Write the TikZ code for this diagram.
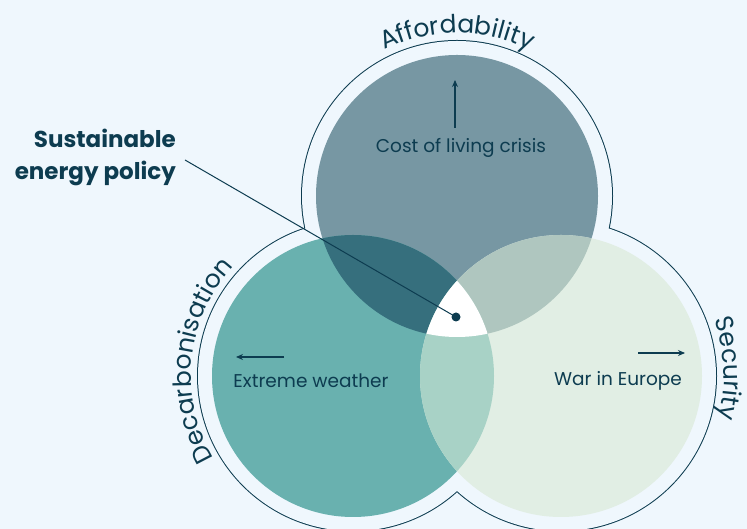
\documentclass[tikz,border=0pt]{standalone}
\usepackage{fontspec}
\setmainfont{Poppins}
\usetikzlibrary{decorations.text,arrows.meta}
\definecolor{bg}{HTML}{EFF7FD}
\definecolor{ink}{HTML}{0D3C50}
\definecolor{topc}{HTML}{7797A3}
\definecolor{leftc}{HTML}{69B1AF}
\definecolor{rightc}{HTML}{E1EEE4}
\definecolor{tlc}{HTML}{366F7D}
\definecolor{trc}{HTML}{AFC6BF}
\definecolor{lrc}{HTML}{A8D2C6}
\tikzset{
  lbl/.style={text=ink, font=\fontsize{18.5}{22}\selectfont, inner sep=0pt},
  pointer/.style={draw=ink, line width=1.1pt, -{Stealth[length=7pt,width=6pt]}},
  curved/.style={decorate, decoration={text along path, text align=center, text={|\fontsize{25}{25}\selectfont\color{ink}|#1}}}
}
\begin{document}
\begin{tikzpicture}[x=1pt,y=1pt]
\useasboundingbox (0,0) rectangle (747,529);
\clip (0,0) rectangle (747,529);
\fill[bg] (0,0) rectangle (747,529);
\coordinate (T) at (457,333);
\coordinate (L) at (353,153);
\coordinate (R) at (561,153);
% outer outline
\draw[ink, line width=2pt] (T) circle[radius=155pt] (L) circle[radius=155pt] (R) circle[radius=155pt];
\fill[bg] (T) circle[radius=155pt] (L) circle[radius=155pt] (R) circle[radius=155pt];
% base circles
\fill[topc] (T) circle[radius=141pt];
\fill[leftc] (L) circle[radius=141pt];
\fill[rightc] (R) circle[radius=141pt];
\begin{scope}
  \clip (T) circle[radius=141pt];
  \fill[tlc] (L) circle[radius=141pt];
  \fill[trc] (R) circle[radius=141pt];
\end{scope}
\begin{scope}
  \clip (L) circle[radius=141pt];
  \fill[lrc] (R) circle[radius=141pt];
  \clip (R) circle[radius=141pt];
  \fill[white] (T) circle[radius=141pt];
\end{scope}
% curved titles
\path[curved=Affordability] (T) ++(130:163pt) arc[start angle=130, end angle=50, radius=163pt];
\path[curved=Decarbonisation] (L) ++(218:162pt) arc[start angle=218, end angle=130, radius=162pt];
\path[curved=Security] (R) ++(32:163pt) arc[start angle=32, end angle=-27, radius=163pt];
% inner labels
\node[lbl] (cost) at (461,381) {Cost of living crisis};
\node[lbl] (ext) at (311,148) {Extreme weather};
\node[lbl] (war) at (618,148) {War in Europe};
\coordinate (a1s) at (455,401); \coordinate (a1e) at (455,449);
\coordinate (a2s) at (284,172); \coordinate (a2e) at (236,172);
\coordinate (a3s) at (638,176); \coordinate (a3e) at (685,176);
\draw[pointer] (a1s) -- (a1e);
\draw[pointer] (a2s) -- (a2e);
\draw[pointer] (a3s) -- (a3e);
% sustainable energy policy
\node[text=ink, font=\fontsize{23}{32}\selectfont\bfseries, align=right, anchor=east, inner sep=0pt] (sep) at (176,372) {Sustainable\\energy policy};
\node[circle, fill=ink, minimum size=9pt, inner sep=0pt] (dot) at (456,212) {};
\coordinate (ls) at (185,369);
\draw[ink, line width=1pt] (ls) -- (dot.center);
\end{tikzpicture}
\end{document}
